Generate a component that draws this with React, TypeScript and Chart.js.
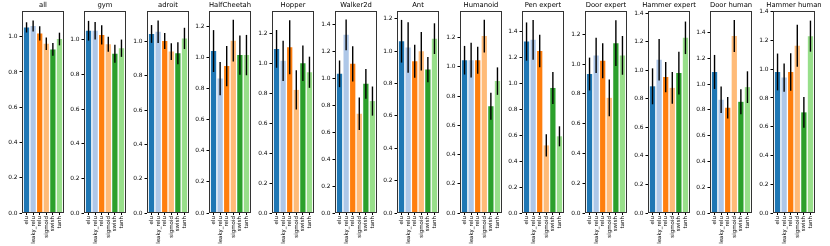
import React, { useEffect, useRef } from 'react';
import { Chart, registerables } from 'chart.js';

Chart.register(...registerables);

const categories = ['elu', 'leaky_relu', 'relu', 'sigmoid', 'swish', 'tanh'];
const barColors = ['#1f77b4', '#aec7e8', '#ff7f0e', '#ffbb78', '#2ca02c', '#98df8a'];

const panelTitles = ['all', 'gym', 'adroit', 'HalfCheetah', 'Hopper', 'Walker2d', 'Ant', 'Humanoid', 'Pen expert', 'Door expert', 'Hammer expert', 'Door human', 'Hammer human'];
const yLimits = [1.146, 1.167, 1.179, 1.301, 1.349, 1.498, 1.249, 1.383, 1.554, 1.356, 1.416, 1.568, 1.405];

const meanAll = [1.053, 1.061, 1.019, 0.960, 0.928, 0.987];
const errAll = [0.029, 0.031, 0.041, 0.035, 0.036, 0.036];
const meanGym = [1.053, 1.053, 1.029, 0.975, 0.920, 0.952];
const errGym = [0.057, 0.050, 0.055, 0.043, 0.052, 0.050];
const meanAdroit = [1.045, 1.058, 1.004, 0.942, 0.932, 1.019];
const errAdroit = [0.052, 0.066, 0.047, 0.049, 0.064, 0.062];
const meanHalfCheetah = [1.043, 0.866, 0.946, 1.110, 1.017, 1.017];
const errHalfCheetah = [0.135, 0.107, 0.130, 0.135, 0.127, 0.130];
const meanHopper = [1.096, 1.016, 1.107, 0.822, 1.000, 0.940];
const errHopper = [0.126, 0.135, 0.180, 0.131, 0.119, 0.104];
const meanWalker2d = [1.032, 1.321, 1.106, 0.736, 0.958, 0.830];
const errWalker2d = [0.099, 0.114, 0.130, 0.121, 0.110, 0.108];
const meanAnt = [1.062, 1.023, 0.938, 1.000, 0.887, 1.078];
const errAnt = [0.132, 0.156, 0.102, 0.119, 0.078, 0.095];
const meanHumanoid = [1.046, 1.046, 1.046, 1.211, 0.731, 0.903];
const errHumanoid = [0.098, 0.119, 0.092, 0.112, 0.093, 0.094];
const meanPenExpert = [1.319, 1.332, 1.247, 0.520, 0.962, 0.590];
const errPenExpert = [0.147, 0.153, 0.125, 0.085, 0.123, 0.077];
const meanDoorExpert = [0.933, 1.058, 1.022, 0.773, 1.140, 1.058];
const errDoorExpert = [0.110, 0.119, 0.118, 0.123, 0.154, 0.130];
const meanHammerExpert = [0.888, 1.074, 0.953, 0.877, 0.981, 1.228];
const errHammerExpert = [0.126, 0.146, 0.106, 0.111, 0.150, 0.114];
const meanDoorHuman = [1.095, 0.879, 0.817, 1.374, 0.863, 0.977];
const errDoorHuman = [0.132, 0.103, 0.084, 0.125, 0.097, 0.123];
const meanHammerHuman = [0.981, 0.942, 0.981, 1.163, 0.700, 1.230];
const errHammerHuman = [0.128, 0.098, 0.130, 0.146, 0.107, 0.108];

const panelMeans = [meanAll, meanGym, meanAdroit, meanHalfCheetah, meanHopper, meanWalker2d, meanAnt, meanHumanoid, meanPenExpert, meanDoorExpert, meanHammerExpert, meanDoorHuman, meanHammerHuman];
const panelErrs = [errAll, errGym, errAdroit, errHalfCheetah, errHopper, errWalker2d, errAnt, errHumanoid, errPenExpert, errDoorExpert, errHammerExpert, errDoorHuman, errHammerHuman];

const FONT = 'DejaVu Sans';
const X_TICK_SIZE = 5.5;
const Y_TICK_SIZE = 5.9;
const TITLE_SIZE = 6.8;
const CANVAS_W = 76;
const CANVAS_H = 246;
const Y_AXIS_W = 24;
const X_AXIS_H = 33;
const PAD_TOP = 11;
const PAD_RIGHT = 10;

type PanelProps = { title: string; means: number[]; errs: number[]; ymax: number; left: number };

function Panel({ title, means, errs, ymax, left }: PanelProps) {
  const ref = useRef<HTMLCanvasElement | null>(null);
  useEffect(() => {
    if (!ref.current) return;
    const errPlugin = {
      id: 'errbars',
      afterDatasetsDraw(chart: any) {
        const ctx = chart.ctx;
        const xs = chart.scales.x;
        const ys = chart.scales.y;
        ctx.save();
        ctx.strokeStyle = '#000';
        ctx.lineWidth = 1.4;
        means.forEach((m, i) => {
          const x = xs.getPixelForValue(i);
          ctx.beginPath();
          ctx.moveTo(x, ys.getPixelForValue(m - errs[i]));
          ctx.lineTo(x, ys.getPixelForValue(m + errs[i]));
          ctx.stroke();
        });
        ctx.restore();
      },
    };
    const framePlugin = {
      id: 'frame',
      afterDraw(chart: any) {
        const ctx = chart.ctx;
        const { left: l, top: t, right: r, bottom: b } = chart.chartArea;
        ctx.save();
        ctx.strokeStyle = '#333';
        ctx.lineWidth = 1;
        ctx.strokeRect(Math.round(l) + 0.5, Math.round(t) + 0.5, Math.round(r - l) - 1, Math.round(b - t) - 1);
        ctx.fillStyle = '#000';
        ctx.font = `${TITLE_SIZE}px "${FONT}"`;
        ctx.textAlign = 'center';
        ctx.textBaseline = 'middle';
        ctx.fillText(title, (l + r) / 2, 5.5);
        ctx.restore();
      },
    };
    const chart = new Chart(ref.current, {
      type: 'bar',
      data: {
        datasets: [
          {
            data: means.map((v, i) => ({ x: i, y: v })),
            backgroundColor: barColors,
            borderWidth: 0,
            barPercentage: 0.8,
            categoryPercentage: 1,
          } as any,
        ],
      },
      options: {
        responsive: false,
        animation: false,
        events: [],
        layout: { padding: { left: 0, right: PAD_RIGHT, top: PAD_TOP, bottom: 0 } },
        plugins: { legend: { display: false }, tooltip: { enabled: false }, title: { display: false } },
        scales: {
          x: {
            type: 'linear',
            min: -0.69,
            max: 5.69,
            offset: false,
            afterBuildTicks: (s: any) => {
              s.ticks = categories.map((_, i) => ({ value: i }));
            },
            afterFit: (s: any) => {
              s.height = X_AXIS_H;
            },
            ticks: {
              autoSkip: false,
              minRotation: 90,
              maxRotation: 90,
              padding: 1,
              color: '#000',
              font: { family: FONT, size: X_TICK_SIZE },
              callback: (v: any) => categories[Math.round(Number(v))],
            },
            grid: { display: true, offset: false, drawOnChartArea: false, drawTicks: true, tickLength: 2, color: '#000' },
            border: { display: false },
          },
          y: {
            type: 'linear',
            min: 0,
            max: ymax,
            afterFit: (s: any) => {
              s.width = Y_AXIS_W;
            },
            ticks: {
              stepSize: 0.2,
              includeBounds: false,
              padding: 2,
              color: '#000',
              font: { family: FONT, size: Y_TICK_SIZE },
              callback: (v: any) => Number(v).toFixed(1),
            },
            grid: { display: true, drawOnChartArea: false, drawTicks: true, tickLength: 2.5, color: '#000' },
            border: { display: false },
          },
        },
      } as any,
      plugins: [errPlugin, framePlugin],
    });
    return () => chart.destroy();
  }, [title, means, errs, ymax]);
  return (
    <canvas
      ref={ref}
      width={CANVAS_W}
      height={CANVAS_H}
      style={{ position: 'absolute', left, top: 0, width: CANVAS_W, height: CANVAS_H }}
    />
  );
}

export default function App() {
  return (
    <div style={{ position: 'fixed', left: 0, top: 0, width: 830, height: 246, background: '#fff', overflow: 'hidden' }}>
      {panelTitles.map((t, i) => (
        <Panel
          key={t}
          title={t}
          means={panelMeans[i]}
          errs={panelErrs[i]}
          ymax={yLimits[i]}
          left={Math.round(21.6 + 62.6 * i) - Y_AXIS_W}
        />
      ))}
    </div>
  );
}
